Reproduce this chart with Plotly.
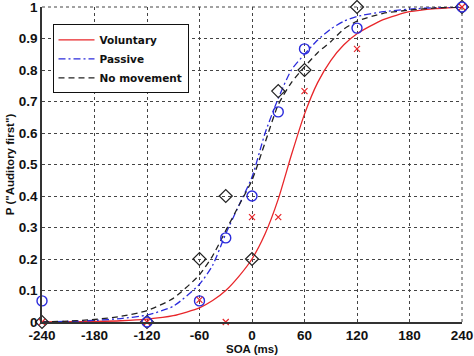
import plotly.graph_objects as go

# Observed data (SOA in ms, proportion "auditory first")
soa = [-240, -120, -60, -30, 0, 30, 60, 120, 240]
vol_pts = [0.0, 0.0, 0.07, 0.0, 0.333, 0.333, 0.733, 0.867, 1.0]
pas_pts = [0.067, 0.0, 0.067, 0.267, 0.4, 0.667, 0.867, 0.933, 1.0]
nom_pts = [0.0, 0.0, 0.2, 0.4, 0.2, 0.733, 0.8, 1.0, 1.0]

# Fitted curves
curve_x = [-240, -210, -180, -150, -120, -90, -60, -45, -30, -15, 0, 15, 30, 45, 60, 75, 90, 105, 120, 150, 180, 210, 240]
vol_fit = [0.0, 0.001, 0.002, 0.004, 0.009, 0.02, 0.045, 0.068, 0.10, 0.145, 0.20, 0.28, 0.39, 0.53, 0.66, 0.76, 0.83, 0.88, 0.915, 0.96, 0.985, 0.995, 1.0]
pas_fit = [0.0, 0.002, 0.005, 0.011, 0.022, 0.05, 0.12, 0.18, 0.28, 0.37, 0.46, 0.60, 0.71, 0.80, 0.85, 0.895, 0.93, 0.955, 0.97, 0.985, 0.993, 0.998, 1.0]
nom_fit = [0.0, 0.003, 0.008, 0.018, 0.036, 0.075, 0.15, 0.21, 0.29, 0.37, 0.45, 0.57, 0.69, 0.76, 0.81, 0.855, 0.89, 0.93, 0.955, 0.98, 0.99, 0.997, 1.0]

x_ticks = [-240, -180, -120, -60, 0, 60, 120, 180, 240]
y_ticks = [0, 0.1, 0.2, 0.3, 0.4, 0.5, 0.6, 0.7, 0.8, 0.9, 1]
y_ticktext = ["0", "0.1", "0.2", "0.3", "0.4", "0.5", "0.6", "0.7", "0.8", "0.9", "1"]

RED = "#e8262a"
BLUE = "#2b2bdc"
BLACK = "#222222"
GRID = "#444444"

fig = go.Figure()
fig.add_trace(go.Scatter(x=curve_x, y=vol_fit, mode="lines", name="Voluntary",
                         line=dict(color=RED, width=1.3, shape="spline", smoothing=0.6)))
fig.add_trace(go.Scatter(x=curve_x, y=pas_fit, mode="lines", name="Passive",
                         line=dict(color=BLUE, width=1.3, dash="7px,3px,2px,3px", shape="spline", smoothing=0.6)))
fig.add_trace(go.Scatter(x=curve_x, y=nom_fit, mode="lines", name="No movement",
                         line=dict(color=BLACK, width=1.3, dash="6px,4px", shape="spline", smoothing=0.6)))

fig.add_trace(go.Scatter(x=soa, y=nom_pts, mode="markers", showlegend=False, cliponaxis=False,
                         marker=dict(symbol="diamond-open", size=10, color=BLACK, line=dict(width=1.2))))
fig.add_trace(go.Scatter(x=soa, y=pas_pts, mode="markers", showlegend=False, cliponaxis=False,
                         marker=dict(symbol="circle-open", size=10, color=BLUE, line=dict(width=1.4))))
fig.add_trace(go.Scatter(x=soa, y=vol_pts, mode="markers", showlegend=False, cliponaxis=False,
                         marker=dict(symbol="x-thin-open", size=6, color=RED, line=dict(width=1.2, color=RED))))

tickfont = dict(family="Liberation Sans, Arial, sans-serif", size=13.5, color="#111111", weight="bold")
titlefont = dict(family="Liberation Sans, Arial, sans-serif", size=11.5, color="#111111", weight="bold")

# dotted frame lines at the top and right edges (grid at y=1 and x=240)
fig.add_shape(type="line", xref="paper", yref="paper", x0=0, x1=1, y0=1, y1=1,
              line=dict(color=GRID, width=1, dash="dot"), layer="below")
fig.add_shape(type="line", xref="paper", yref="paper", x0=1, x1=1, y0=0, y1=1,
              line=dict(color=GRID, width=1, dash="dot"), layer="below")

fig.update_layout(
    width=474, height=356,
    margin=dict(l=42, r=12, t=7, b=34),
    paper_bgcolor="white", plot_bgcolor="white",
    legend=dict(x=0.025, y=0.945, xanchor="left", yanchor="top",
                bgcolor="white", bordercolor="#111111", borderwidth=1,
                font=dict(family="DejaVu Sans, sans-serif", size=10.5, color="#111111", weight="bold"),
                tracegroupgap=0, itemwidth=36),
    xaxis=dict(range=[-240, 240], tickvals=x_ticks, ticktext=[str(v) for v in x_ticks],
               showgrid=True, gridcolor=GRID, griddash="dot", gridwidth=1,
               zeroline=False, showline=True, linecolor="#333333", linewidth=1.5,
               ticks="", tickfont=tickfont, mirror=False, automargin=False,
               ticklabeloverflow="allow",
               title=dict(text="SOA (ms)", font=titlefont, standoff=2)),
    yaxis=dict(range=[0, 1], tickvals=y_ticks, ticktext=y_ticktext,
               showgrid=True, gridcolor=GRID, griddash="dot", gridwidth=1,
               zeroline=False, showline=True, linecolor="#333333", linewidth=1.5,
               ticks="", tickfont=tickfont, mirror=False, automargin=False,
               ticklabeloverflow="allow",
               title=dict(text='P ("Auditory first")', font=titlefont, standoff=2)),
)

fig.write_html("out.html", config={"displayModeBar": False},
               post_script="document.body.style.margin='0px';")
